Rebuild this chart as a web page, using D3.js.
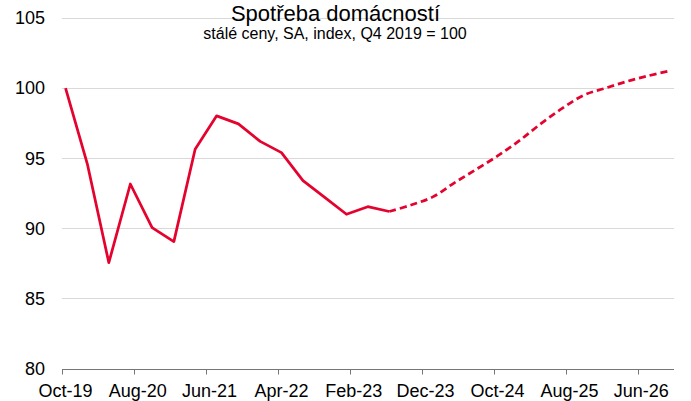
<!DOCTYPE html>
<html>
<head>
<meta charset="utf-8">
<script src="https://cdn.jsdelivr.net/npm/d3@7"></script>
<style>
  body { margin: 0; background: #fff; }
  text { font-family: "Liberation Sans", Arial, sans-serif; fill: #000; }
</style>
</head>
<body>
<div id="chart"></div>
<script>
// Quarterly data, Q4 2019 = 100
const actualMonths = ["2019-10", "2020-01", "2020-04", "2020-07", "2020-10", "2021-01", "2021-04", "2021-07",
    "2021-10", "2022-01", "2022-04", "2022-07", "2022-10", "2023-01", "2023-04", "2023-07"];
const actualValues = [100.0, 94.6, 87.55, 93.16, 90.05, 89.05, 95.64, 98.02,
    97.45, 96.2, 95.4, 93.4, 92.2, 91.0, 91.54, 91.2];

// Forecast (dashed), starts at the last actual quarter
const forecastMonths = ["2023-07", "2023-10", "2024-01", "2024-04", "2024-07", "2024-10", "2025-01",
    "2025-04", "2025-07", "2025-10", "2026-01", "2026-04", "2026-07", "2026-10"];
const forecastValues = [91.2, 91.66, 92.24, 93.24, 94.19, 95.16, 96.25,
    97.45, 98.55, 99.5, 100.0, 100.48, 100.88, 101.24];

const yTicks = [80, 85, 90, 95, 100, 105];
const xTickMonths = ["2019-10", "2020-08", "2021-06", "2022-04", "2023-02", "2023-12", "2024-10", "2025-08", "2026-06"];

const width = 691, height = 401;
const margin = { top: 18, right: 17, bottom: 32, left: 62 };
const red = "#e4032e";

const parseMonth = d3.timeParse("%Y-%m");
// Excel date axis: points sit in the middle of their month
const midMonth = m => d3.timeDay.offset(parseMonth(m), 15);

const svg = d3.select("#chart").append("svg")
    .attr("width", width)
    .attr("height", height);

const x = d3.scaleTime()
    .domain([parseMonth("2019-10"), parseMonth("2026-11")])
    .range([margin.left, width - margin.right]);

const y = d3.scaleLinear()
    .domain([80, 105])
    .range([height - margin.bottom - 0.5, margin.top]);

// gridlines
svg.append("g")
    .selectAll("line")
    .data(yTicks.filter(d => d > 80))
    .enter().append("line")
    .attr("x1", margin.left)
    .attr("x2", width - margin.right)
    .attr("y1", d => Math.round(y(d)) + 0.5)
    .attr("y2", d => Math.round(y(d)) + 0.5)
    .attr("stroke", "#d9d9d9")
    .attr("stroke-width", 1);

// y labels
svg.append("g")
    .selectAll("text")
    .data(yTicks)
    .enter().append("text")
    .attr("x", 45)
    .attr("y", d => y(d))
    .attr("dy", "0.35em")
    .attr("text-anchor", "end")
    .style("font-size", "18px")
    .text(d => d);

// x axis
const xAxisY = Math.round(y(80)) + 0.5;
svg.append("line")
    .attr("x1", margin.left)
    .attr("x2", width - margin.right)
    .attr("y1", xAxisY)
    .attr("y2", xAxisY)
    .attr("stroke", "#767676")
    .attr("stroke-width", 1);

const ticks = svg.append("g")
    .selectAll("g")
    .data(xTickMonths)
    .enter().append("g");

ticks.append("line")
    .attr("x1", d => Math.round(x(parseMonth(d))) + 0.5)
    .attr("x2", d => Math.round(x(parseMonth(d))) + 0.5)
    .attr("y1", xAxisY)
    .attr("y2", xAxisY + 5)
    .attr("stroke", "#767676");

ticks.append("text")
    .attr("x", d => x(midMonth(d)))
    .attr("y", 397)
    .attr("text-anchor", "middle")
    .style("font-size", "18px")
    .text(d => d3.timeFormat("%b-%y")(parseMonth(d)));

// lines
const actual = actualMonths.map((m, i) => ({ date: midMonth(m), value: actualValues[i] }));
const forecast = forecastMonths.map((m, i) => ({ date: midMonth(m), value: forecastValues[i] }));

svg.append("path")
    .datum(actual)
    .attr("fill", "none")
    .attr("stroke", red)
    .attr("stroke-width", 2.75)
    .attr("stroke-linejoin", "round")
    .attr("d", d3.line().x(d => x(d.date)).y(d => y(d.value)));

svg.append("path")
    .datum(forecast)
    .attr("fill", "none")
    .attr("stroke", red)
    .attr("stroke-width", 2.75)
    .attr("stroke-dasharray", "7,4")
    .attr("d", d3.line().curve(d3.curveCatmullRom.alpha(0.5)).x(d => x(d.date)).y(d => y(d.value)));

// title
svg.append("text")
    .attr("x", 335.5)
    .attr("y", 21)
    .attr("text-anchor", "middle")
    .style("font-size", "22px")
    .text("Spotřeba domácností");

svg.append("text")
    .attr("x", 335)
    .attr("y", 39)
    .attr("text-anchor", "middle")
    .style("font-size", "16px")
    .text("stálé ceny, SA, index, Q4 2019 = 100");
</script>
</body>
</html>
